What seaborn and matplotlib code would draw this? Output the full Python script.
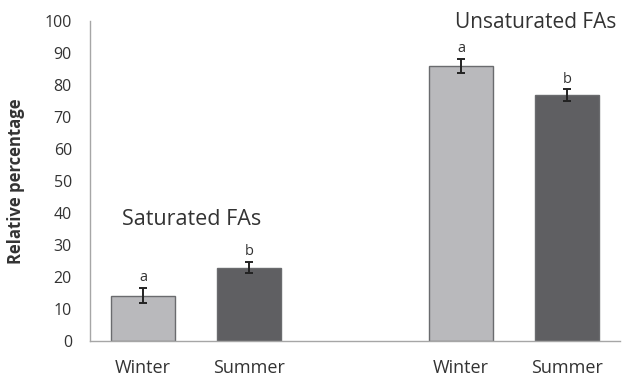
import numpy as np
import pandas as pd
import matplotlib
matplotlib.use("Agg")
import matplotlib.pyplot as plt
import seaborn as sns

# Fatty-acid composition by season
slots = ["sat_w", "sat_s", "gap", "uns_w", "uns_s"]
tick_labels = ["Winter", "Summer", "", "Winter", "Summer"]
values = [14.2, 22.9, np.nan, 85.9, 76.8]
errors = [2.4, 1.8, np.nan, 2.2, 1.8]
letters = ["a", "b", "", "a", "b"]
group_titles = ["Saturated FAs", "Unsaturated FAs"]

light, dark = "#b8b9bd", "#5e5f63"
bar_colors = [light, dark, light, light, dark]

sns.set_style("white")
plt.rcParams["font.family"] = ["Open Sans", "DejaVu Sans"]
text_color = "#333333"

df = pd.DataFrame({"slot": slots, "value": values})

fig = plt.figure(figsize=(6.22, 3.80), dpi=100)
ax = fig.add_axes([0.1447, 0.1026, 0.852, 0.8429])

sns.barplot(data=df, x="slot", y="value", order=slots, hue="slot",
            palette=dict(zip(slots, bar_colors)), legend=False,
            width=0.61, edgecolor="#6a6b6e", linewidth=1.0, ax=ax, errorbar=None)

xs = np.arange(len(slots))
mask = ~np.isnan(values)
ax.errorbar(xs[mask], np.array(values)[mask], yerr=np.array(errors)[mask],
            fmt="none", ecolor="#222222", elinewidth=1.4, capsize=3.2, capthick=1.4,
            clip_on=False)

for x, v, e, t in zip(xs, values, errors, letters):
    if t:
        ax.text(x, v + e + 0.8, t, ha="center", va="bottom", fontsize=10.5, color=text_color)

ax.text(0.46, 38, group_titles[0], ha="center", va="center", fontsize=15.5, color=text_color)
ax.text(4.47, 99.5, group_titles[1], ha="right", va="center", fontsize=15, color=text_color,
        clip_on=False)

ax.set_xlim(-0.5, 4.5)
ax.set_ylim(0, 100)
ax.set_yticks(np.arange(0, 101, 10))
ax.set_xticks(xs)
ax.set_xticklabels(tick_labels)
ax.set_xticks(np.arange(-0.5, 4.6, 1.0), minor=True)
ax.tick_params(axis="x", which="major", length=0, pad=13, labelsize=13, labelcolor=text_color)
ax.tick_params(axis="x", which="minor", length=5, width=1, color="#a6a6a6", direction="out")
ax.tick_params(axis="y", length=5, width=1, color="#a6a6a6", direction="out",
               labelsize=11.5, labelcolor=text_color, pad=8)
ax.set_xlabel("")
ax.set_ylabel("Relative percentage", fontsize=12, fontweight="bold", color=text_color, labelpad=14)

for side in ["top", "right"]:
    ax.spines[side].set_visible(False)
for side in ["left", "bottom"]:
    ax.spines[side].set_color("#a6a6a6")
    ax.spines[side].set_linewidth(1.0)

fig.savefig("out.png", dpi=100)
